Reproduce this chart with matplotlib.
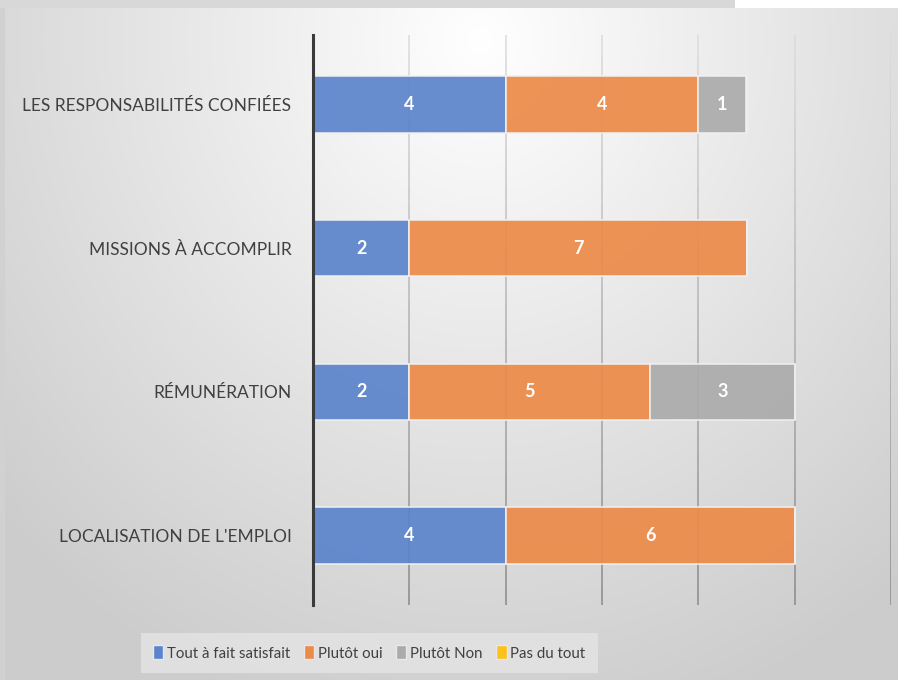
import numpy as np
import matplotlib
matplotlib.use("Agg")
from matplotlib import pyplot as plt
from matplotlib.patches import Patch

categories = ["LES RESPONSABILITÉS CONFIÉES", "MISSIONS À ACCOMPLIR",
              "RÉMUNÉRATION", "LOCALISATION DE L'EMPLOI"]
series_names = ["Tout à fait satisfait", "Plutôt oui", "Plutôt Non", "Pas du tout"]
tout_a_fait = [4, 2, 2, 4]
plutot_oui = [4, 7, 5, 6]
plutot_non = [1, 0, 3, 0]
pas_du_tout = [0, 0, 0, 0]
colors = ["#5b84cc", "#ec8a48", "#ababab", "#fcc21b"]

plt.rcParams['font.family'] = ['Lato', 'DejaVu Sans']

W, H = 898, 680
fig = plt.figure(figsize=(W / 100, H / 100), dpi=100)

# chart area gradient background
bg = fig.add_axes([0, 0, 1, 1], zorder=-10)
yy, xx = np.mgrid[0:H, 0:W]
d = np.sqrt(((xx - 480) / 620.0) ** 2 + ((yy - 40) / 680.0) ** 2)
shade = 1.0 - 0.19 * np.clip(d, 0, 1.05)
img = np.dstack([shade, shade, shade])
img[:8, :, :] = 1.0
img[:8, :735, :] = 0.85
img[8:, :5, :] = 0.82
bg.imshow(img, extent=[0, W, H, 0], aspect="auto", interpolation="bilinear")
bg.set_xlim(0, W)
bg.set_ylim(H, 0)
bg.axis("off")

ax = fig.add_axes([313 / W, 1 - 605 / H, 578 / W, 570 / H])
ax.patch.set_alpha(0)
y = np.arange(len(categories))

# gridlines, lighter at the top like the gradient
for gx in range(2, 14, 2):
    segs = 30
    edges = np.linspace(-0.48, 3.48, segs + 1)
    for i in range(segs):
        t = i / segs
        c = 0.86 - 0.33 * t
        ax.plot([gx, gx], [edges[i], edges[i + 1]], color=(c, c, c), lw=1.1,
                zorder=1, solid_capstyle="butt")

left = np.zeros(len(categories))
for vals, col in zip([tout_a_fait, plutot_oui, plutot_non, pas_du_tout], colors):
    vals = np.array(vals, dtype=float)
    ax.barh(y, vals, left=left, height=0.395, color=col, alpha=0.92,
            edgecolor="#f0f0f0", linewidth=1.2, zorder=2)
    for yi, v, l in zip(y, vals, left):
        if v > 0:
            ax.text(l + v / 2, yi, f"{int(v)}", ha="center", va="center",
                    color="white", fontsize=13, fontweight="bold", zorder=3)
    left += vals

ax.set_xlim(0, 12)
ax.set_ylim(3.48, -0.48)
ax.set_yticks(y)
ax.set_yticklabels(categories, fontsize=12.5, color="#404040")
ax.tick_params(axis="y", length=0, pad=15.5)
ax.set_xticks([])
for s in ["top", "right", "bottom"]:
    ax.spines[s].set_visible(False)
ax.spines["left"].set_color("#3a3a3a")
ax.spines["left"].set_linewidth(2.2)
ax.spines["left"].set_zorder(4)

handles = [Patch(facecolor=c, edgecolor="#e8e8e8") for c in colors]
leg = fig.legend(handles, series_names, loc="center", ncol=4,
                 bbox_to_anchor=(369 / W, 1 - 653 / H), fontsize=10.8,
                 frameon=True, fancybox=False, handlelength=0.7,
                 handleheight=1.05, handletextpad=0.25, columnspacing=0.9,
                 borderpad=0.8, labelcolor="#404040")
leg.get_frame().set_facecolor("#e2e2e2")
leg.get_frame().set_edgecolor("none")
leg.get_frame().set_alpha(0.9)

fig.savefig("out.png", dpi=100)
